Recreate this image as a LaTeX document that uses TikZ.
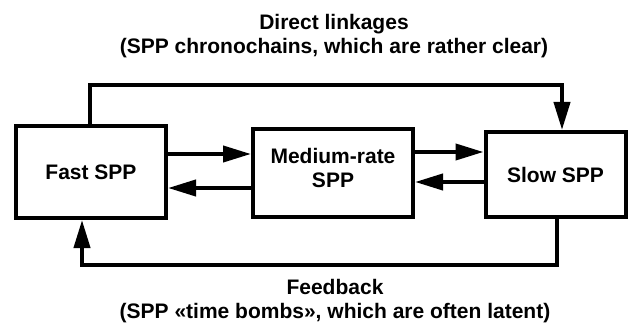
\documentclass[tikz,border=0pt]{standalone}
\usepackage{fontspec}
\setmainfont{Liberation Sans}
\usepackage{tikz}
\usetikzlibrary{arrows.meta}

\begin{document}
\begin{tikzpicture}[x=1pt,y=-1pt,line width=4pt,
  every node/.style={font=\bfseries\fontsize{21}{24}\selectfont,align=center},
  box/.style={draw,inner sep=0pt}]

  \useasboundingbox (0,0) rectangle (628,323);

  % Specification of nodes (position, etc.)
  \node[box,minimum width=150pt,minimum height=92pt] (fast) at (91,172) {Fast SPP};
  \node[box,minimum width=160pt,minimum height=88pt,text depth=10pt] (medium) at (333,173) {Medium-rate\\SPP};
  \node[box,minimum width=140pt,minimum height=85pt] (slow) at (555.5,174.5) {Slow SPP};

  \node[inner sep=0pt] (direct) at (334,36) {Direct linkages\\(SPP chronochains, which are rather clear)};
  \node[inner sep=0pt] (feedback) at (335,301) {Feedback\\(SPP \guillemotleft time bombs\guillemotright, which are often latent)};

  \coordinate (tl) at (90,85);
  \coordinate (tr) at (562,85);
  \coordinate (br) at (557,265);
  \coordinate (bl) at (82,265);

  \begin{scope}[-{Triangle[length=28pt,width=16pt]}]
    \draw (fast.east |- 0,154) to (medium.west |- 0,154);
    \draw (medium.west |- 0,188) to (fast.east |- 0,188);
    \draw (medium.east |- 0,152) to (slow.west |- 0,152);
    \draw (slow.west |- 0,182) to (medium.east |- 0,182);
    \draw (fast.north -| tl) -- (tl) -- (tr) to (slow.north -| tr);
    \draw (slow.south -| br) -- (br) -- (bl) to (fast.south -| bl);
  \end{scope}

\end{tikzpicture}
\end{document}
